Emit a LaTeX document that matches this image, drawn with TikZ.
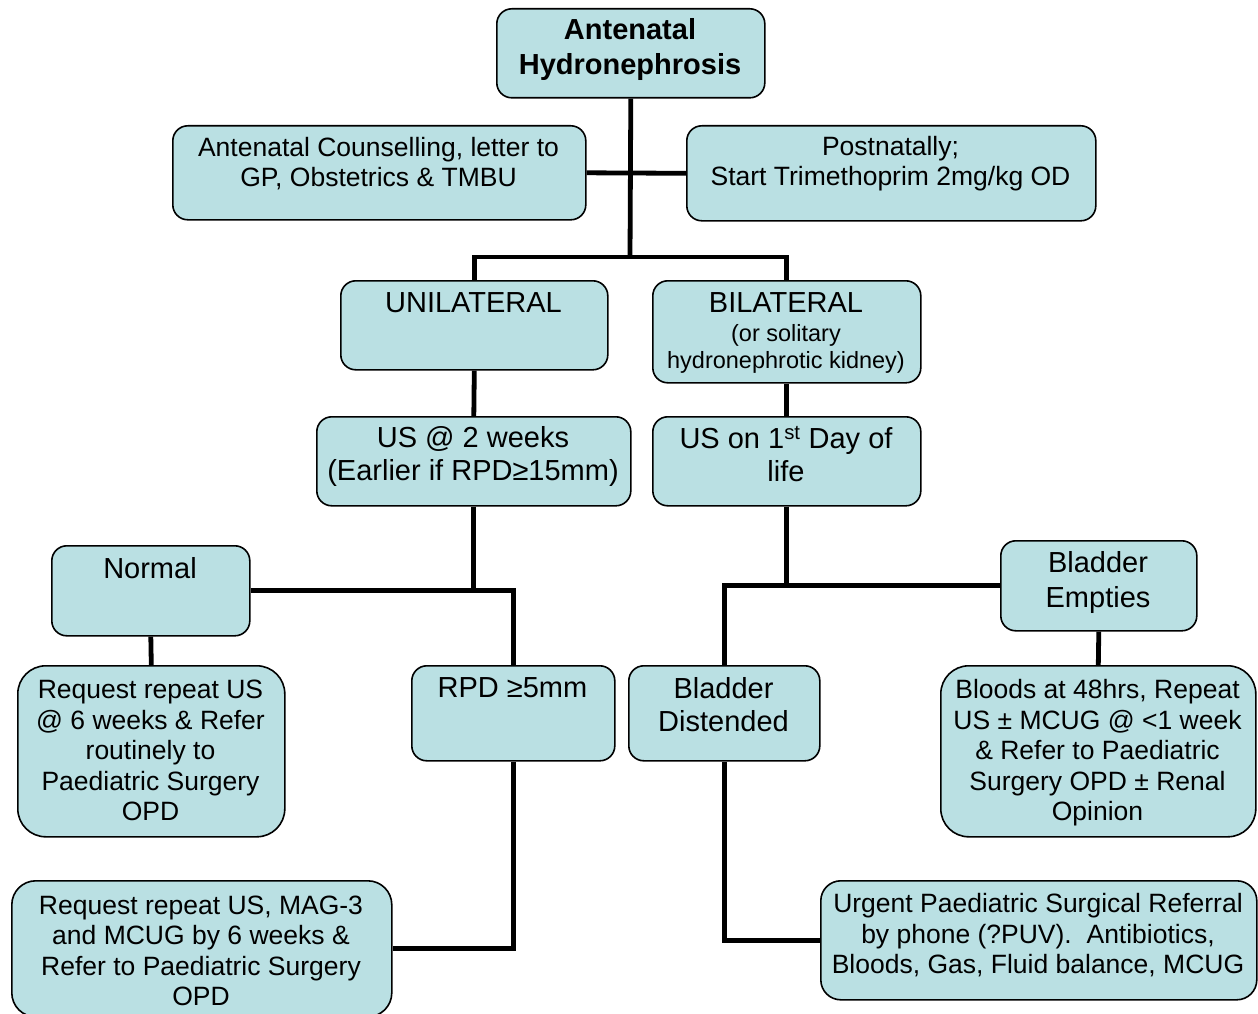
\documentclass[tikz,border=0pt]{standalone}
\usepackage{fontspec}
\setmainfont{Liberation Sans}
\definecolor{boxfill}{RGB}{186,224,227}
\begin{document}
\begin{tikzpicture}[x=1pt,y=-1pt,
  box/.style={draw=black, line width=1.6pt, fill=boxfill, rounded corners=15pt, inner sep=0pt, anchor=north west},
  conn/.style={draw=black, line width=4.8pt},
  txt/.style={inner sep=0pt, align=center, anchor=north, execute at begin node={\rule{0pt}{26pt}}},
  fs/.style={font=\fontsize{26.5}{30.5}\selectfont},
  fl/.style={font=\fontsize{29}{33}\selectfont},
  ft/.style={font=\fontsize{29}{35}\selectfont\bfseries},
  fx/.style={font=\fontsize{23.5}{27}\selectfont}]
\useasboundingbox (0,0) rectangle (1258,1014);
% boxes
\node[box, minimum width=268pt, minimum height=89pt] (top) at (496,8) {};
\node[box, minimum width=413pt, minimum height=94pt] (couns) at (172,125) {};
\node[box, minimum width=409pt, minimum height=95pt] (post) at (686,125) {};
\node[box, minimum width=267pt, minimum height=89pt] (uni) at (340,280) {};
\node[box, minimum width=268pt, minimum height=102pt] (bil) at (652,280) {};
\node[box, minimum width=314pt, minimum height=89pt] (us2) at (316,416) {};
\node[box, minimum width=268pt, minimum height=89pt] (us1) at (652,416) {};
\node[box, minimum width=198pt, minimum height=90pt] (normal) at (51,545) {};
\node[box, rounded corners=28pt, minimum width=267pt, minimum height=171pt] (rep1) at (17,665) {};
\node[box, minimum width=203pt, minimum height=95pt] (rpd) at (411,665) {};
\node[box, minimum width=191pt, minimum height=95pt] (bdist) at (628,665) {};
\node[box, minimum width=196pt, minimum height=90pt] (bempt) at (1000,540) {};
\node[box, rounded corners=28pt, minimum width=315pt, minimum height=171pt] (bloods) at (940,665) {};
\node[box, rounded corners=24pt, minimum width=380pt, minimum height=136pt] (mag) at (11,880) {};
\node[box, rounded corners=20pt, minimum width=436pt, minimum height=119pt] (urgent) at (820,880) {};
% texts
\node[txt, ft] (topt) at (630,18) {Antenatal\\Hydronephrosis};
\node[txt, fs] (counst) at (378.5,137) {Antenatal Counselling, letter to\\GP, Obstetrics \& TMBU};
\node[txt, fs] (postt) at (890.5,136) {Postnatally;\\Start Trimethoprim 2mg/kg OD};
\node[txt, fl] (unit) at (473.5,286) {UNILATERAL};
\node[txt, fl] (bilt) at (786,286) {BILATERAL};
\node[txt, fx] (bils) at (786,324) {(or solitary\\hydronephrotic kidney)};
\node[txt, fl] (us2t) at (473,426) {US @ 2 weeks\\(Earlier if RPD≥15mm)};
\node[txt, fl] (us1t) at (786,426) {US on 1\textsuperscript{st} Day of\\life};
\node[txt, fl] (normalt) at (150,552) {Normal};
\node[txt, fs] (rep1t) at (150.5,680) {Request repeat US\\@ 6 weeks \& Refer\\routinely to\\Paediatric Surgery\\OPD};
\node[txt, fl] (rpdt) at (512.5,671) {RPD ≥5mm};
\node[txt, fl] (bdistt) at (723.5,677) {Bladder\\Distended};
\node[txt, fl, font=\fontsize{29}{35}\selectfont] (bemptt) at (1098,551) {Bladder\\Empties};
\node[txt, fs] (bloodst) at (1097.5,679.5) {Bloods at 48hrs, Repeat\\US ± MCUG @ <1 week\\\& Refer to Paediatric\\Surgery OPD ± Renal\\Opinion};
\node[txt, fs] (magt) at (201,895.5) {Request repeat US, MAG-3\\and MCUG by 6 weeks \&\\Refer to Paediatric Surgery\\OPD};
\node[txt, fs] (urgentt) at (1038,893.5) {Urgent Paediatric Surgical Referral\\by phone (?PUV).\ \ Antibiotics,\\Bloods, Gas, Fluid balance, MCUG};
% connectors
\coordinate (j1) at (630,257);
\draw[conn] (top.south) -- (j1);
\draw[conn] (couns.east) -- (post.west);
\draw[conn] (uni.north) -- (uni.north |- j1) -- (bil.north |- j1) -- (bil.north);
\draw[conn] (uni.south) -- (us2.north);
\draw[conn] (bil.south) -- (us1.north);
\draw[conn] (us2.south) -- (us2.south |- normal.east);
\draw[conn] (normal.east) -| (rpd.north);
\draw[conn] (normal.south) -- (rep1.north);
\draw[conn] (rpd.south) |- (mag.east);
\draw[conn] (us1.south) -- (us1.south |- bempt.west);
\draw[conn] (bdist.north) |- (bempt.west);
\draw[conn] (bdist.south) |- (urgent.west);
\draw[conn] (bempt.south) -- (bloods.north);
\end{tikzpicture}
\end{document}
